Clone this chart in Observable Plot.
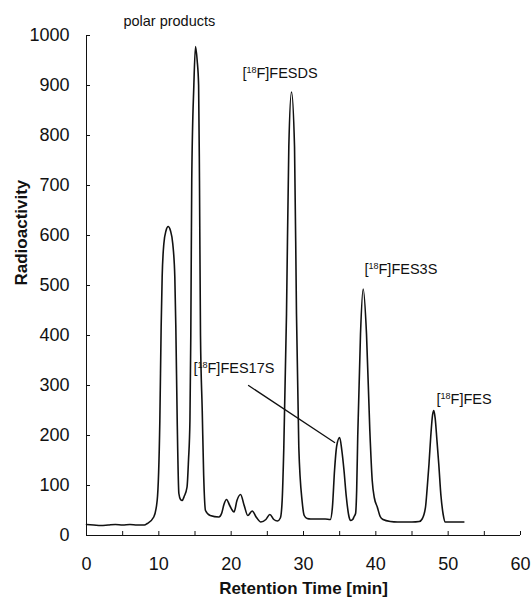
<!DOCTYPE html>
<html><head><meta charset="utf-8">
<script src="https://cdn.jsdelivr.net/npm/d3@7"></script>
<script src="https://cdn.jsdelivr.net/npm/@observablehq/plot@0.6"></script>
<style>body{margin:0;background:#fff}</style>
</head><body><div id="chart"></div>
<script>
// Retention time (min) and radioactivity
const time = [0,1,2,3,4,5,6,7,8,8.4,9.3,9.77,10.14,10.32,10.46,10.69,11.0,11.29,11.6,11.93,12.21,12.35,12.54,12.77,13.0,13.22,13.5,13.9,14.1,14.3,14.42,14.55,14.84,15.07,15.3,15.5,15.62,15.76,16.0,16.2,16.45,17.1,18.3,18.7,19.0,19.36,19.8,20.4,20.8,21.3,21.8,22.3,22.9,23.5,24.1,24.8,25.35,25.9,26.4,26.8,27.05,27.28,27.65,27.97,28.34,28.76,29.03,29.35,29.82,30.1,30.5,31,32,33,33.7,34.0,34.29,34.6,35.0,35.3,35.6,35.9,36.3,36.5,36.8,37.0,37.2,37.35,37.5,37.88,38.25,38.71,39.17,39.5,39.8,40.2,40.6,41,42,43,44,45,46,46.4,46.87,47.1,47.35,47.6,47.85,48.02,48.2,48.45,48.7,49.0,49.3,49.6,50.5,51.5,52.17];
const activity = [22,21,20,21,22,21,22,21,21,24,37,70,230,417,517,583,610,618,610,583,517,417,230,84,72,70,78,97,150,230,400,710,900,978,950,900,710,400,250,120,50,40,37,45,62,72,60,47,70,82,60,40,49,36,27,32,42,32,29,35,70,177,443,777,887,777,443,177,67,40,34,33,33,33,32,57,130,180,196,170,130,80,37,30,32,38,44,90,200,403,493,403,210,110,75,57,38,32,28,27,27,27,28,33,57,95,143,200,242,250,235,190,143,80,43,27,27,27,27];

const xTickLabels = [0,10,20,30,40,50,60];
const xTickMarks = [0,5,10,15,20,25,30,35,40,45,50,55,60];
const yTicks = [0,100,200,300,400,500,600,700,800,900,1000];

const labelText = ["polar products","[18F]FESDS","[18F]FES3S","[18F]FES17S","[18F]FES"];
const labelTime = [5.1,21.55,38.43,14.79,48.39];
const labelValue = [1029,925,533,335,273];

const pointerTime = [22.4,34.3];
const pointerValue = [300,186];

const xTitle = "Retention Time [min]";
const yTitle = "Radioactivity";

const data = time.map((t,i)=>({t, v: activity[i]}));
const labels = labelText.map((s,i)=>({s, t: labelTime[i], v: labelValue[i]}));
const pointer = pointerTime.map((t,i)=>({t, v: pointerValue[i]}));

const font = "Liberation Sans, Arial, Helvetica, sans-serif";

const chart = Plot.plot({
  width: 532, height: 597,
  marginLeft: 86, marginRight: 12, marginTop: 35, marginBottom: 62,
  style: {fontFamily: font, background: "#fff", color: "#111"},
  x: {domain: [0,60], label: null},
  y: {domain: [0,1000], label: null},
  marks: [
    Plot.axisX({ticks: xTickLabels, tickSize: 0, tickPadding: 22, fontSize: 18, label: null, tickFormat: d => String(d)}),
    Plot.axisX({ticks: xTickMarks, tickSize: -4, text: null, label: null}),
    Plot.axisY({ticks: yTicks, tickSize: 0, tickPadding: 17, fontSize: 18, label: null, tickFormat: d => String(d)}),
    Plot.axisY({ticks: yTicks, tickSize: -4, text: null, label: null}),
    Plot.ruleX([0]),
    Plot.ruleY([0]),
    Plot.text(labels, {x: "t", y: "v", text: "s", textAnchor: "start", lineAnchor: "middle", fontSize: 14.5, fill: "#111"}),
    Plot.line(pointer, {x: "t", y: "v", stroke: "#111", strokeWidth: 1.3}),
    Plot.line(data, {x: "t", y: "v", stroke: "#111", strokeWidth: 1.6, curve: "monotone-x"}),
    Plot.text([xTitle], {frameAnchor: "bottom", dy: 52.6, fontSize: 17, fontWeight: "bold", fill: "#111", lineAnchor: "middle"}),
    Plot.text([yTitle], {frameAnchor: "left", dx: -64.7, rotate: -90, fontSize: 17, fontWeight: "bold", fill: "#111", lineAnchor: "middle"})
  ]
});

// superscript isotope numbers in the peak labels
d3.select(chart).selectAll("text").each(function() {
  if (this.querySelector("tspan")) return;
  const s = this.textContent;
  const m = s.match(/^\[(\d+)(F\].*)$/);
  if (!m) return;
  const el = d3.select(this);
  el.text(null);
  el.append("tspan").text("[");
  el.append("tspan").attr("font-size", "0.62em").attr("dy", "-0.5em").text(m[1]);
  el.append("tspan").attr("dy", "0.31em").text(m[2]);
});

document.getElementById("chart").appendChild(chart);
</script>
</body></html>
